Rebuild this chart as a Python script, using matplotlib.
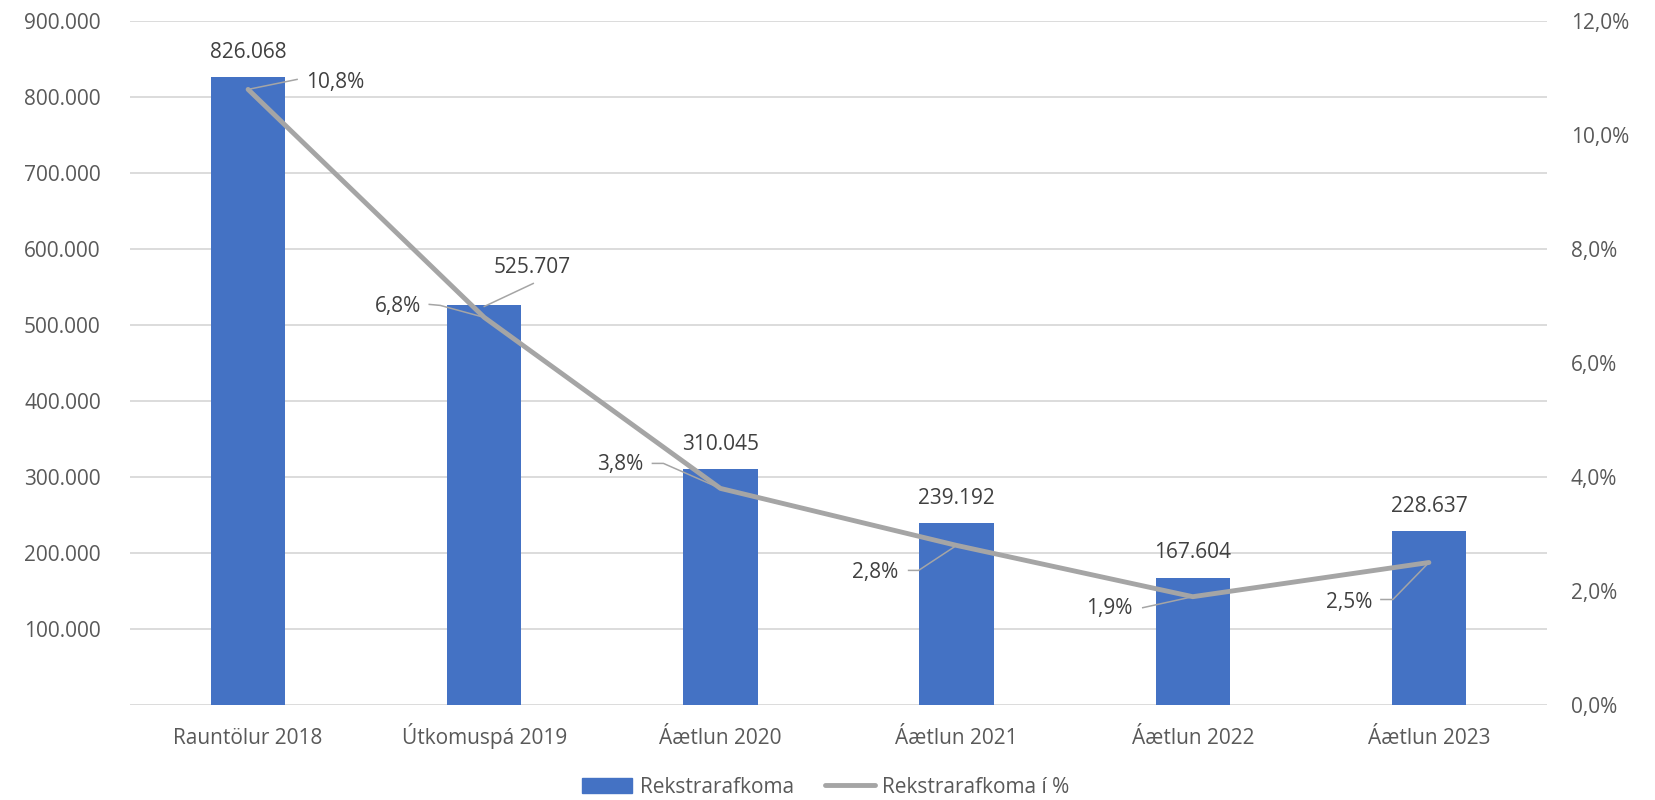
import matplotlib
matplotlib.use("Agg")
import matplotlib.pyplot as plt
from matplotlib.lines import Line2D
from matplotlib.patches import Patch
from matplotlib.transforms import IdentityTransform, ScaledTranslation

# Data
categories = ["Rauntölur 2018", "Útkomuspá 2019", "Áætlun 2020",
              "Áætlun 2021", "Áætlun 2022", "Áætlun 2023"]
afkoma = [826068, 525707, 310045, 239192, 167604, 228637]
afkoma_pct = [10.8, 6.8, 3.8, 2.8, 1.9, 2.5]
left_ticks = [100000, 200000, 300000, 400000, 500000, 600000, 700000, 800000, 900000]
right_ticks = [0, 2, 4, 6, 8, 10, 12]

BAR = "#4472C4"
LINE = "#A5A5A5"
GRID = "#D9D9D9"
TICK = "#595959"
LABEL = "#404040"

plt.rcParams["font.family"] = ["Open Sans", "DejaVu Sans"]
FS = 15

fig = plt.figure(figsize=(16.55, 8.0), dpi=100)
ax = fig.add_axes([130 / 1655, 1 - 705 / 800, (1547 - 130) / 1655, (705 - 21) / 800])
ax2 = ax.twinx()

x = list(range(len(categories)))
ax.bar(x, afkoma, width=0.315, color=BAR, zorder=2)
ax.set_xlim(-0.5, len(categories) - 0.5)
ax.set_ylim(0, 900000)
ax.set_yticks(left_ticks)
ax.set_yticklabels([f"{v:,}".replace(",", ".") for v in left_ticks])
ax.set_xticks(x)
ax.set_xticklabels(categories, va="baseline")
ax.grid(axis="y", color=GRID, linewidth=1.3, zorder=0)
ax.axhline(0, color=GRID, linewidth=1.3, zorder=1)
ax.set_axisbelow(True)

ax2.plot(x, [p / 100 for p in afkoma_pct], color=LINE, linewidth=3.5,
         solid_capstyle="round", solid_joinstyle="round", zorder=3)
ax2.set_ylim(0, 0.12)
ax2.set_yticks([t / 100 for t in right_ticks])
ax2.set_yticklabels([f"{t:.1f}%".replace(".", ",") for t in right_ticks])

for a in (ax, ax2):
    for s in a.spines.values():
        s.set_visible(False)
    a.tick_params(length=0, labelsize=FS, labelcolor=TICK)
ax.tick_params(axis="y", pad=21)
ax.tick_params(axis="x", pad=28)
ax2.tick_params(axis="y", pad=17)


def leader(axis, xv, yv, pts):
    """Thin leader line from a data point through pixel offsets."""
    tr = IdentityTransform() + ScaledTranslation(xv, yv, axis.transData)
    fig.add_artist(Line2D([p[0] for p in pts], [p[1] for p in pts], transform=tr,
                          color=LINE, linewidth=1.1, zorder=4))


# Bar value labels
bar_label_pos = {1: ((48, 38), [(0, -1), (49, 22)])}
for i, v in enumerate(afkoma):
    txt = f"{v:,}".replace(",", ".")
    if i in bar_label_pos:
        (dx, dy), pts = bar_label_pos[i]
        leader(ax, i, v, pts)
    else:
        dx, dy = 0, 25
    ax.annotate(txt, xy=(i, v), xytext=(dx, dy),
                textcoords="offset pixels", ha="center", va="center",
                fontsize=FS, color=LABEL, zorder=5)

# Percentage labels: (text offset, alignment, leader vertices)
pct_layout = [
    ((58, 7), "left", [(49, 10)]),
    ((-63, 11), "right", [(-44, 12), (-55, 13)]),
    ((-77, 24), "right", [(-57, 25), (-68, 25)]),
    ((-58, -27), "right", [(-38, -25), (-48, -25)]),
    ((-60, -12), "right", [(-50, -11)]),
    ((-57, -40), "right", [(-36, -37), (-48, -37)]),
]
for i, (p, (toff, ha, pts)) in enumerate(zip(afkoma_pct, pct_layout)):
    yv = p / 100
    leader(ax2, i, yv, [(0, 0)] + pts)
    ax2.annotate(f"{p:.1f}%".replace(".", ","), xy=(i, yv), xytext=toff,
                 textcoords="offset pixels", ha=ha, va="center",
                 fontsize=FS, color=LABEL, zorder=5)

handles = [Patch(facecolor=BAR, edgecolor=BAR),
           Line2D([0], [0], color=LINE, linewidth=3.5, solid_capstyle="round")]
fig.legend(handles, ["Rekstrarafkoma", "Rekstrarafkoma í %"], loc="center",
           bbox_to_anchor=(0.499, 0.016), ncol=2, frameon=False, fontsize=FS,
           labelcolor=TICK, handlelength=2.4, handleheight=0.7,
           handletextpad=0.35, columnspacing=1.5)

fig.savefig("out.png", dpi=100)
